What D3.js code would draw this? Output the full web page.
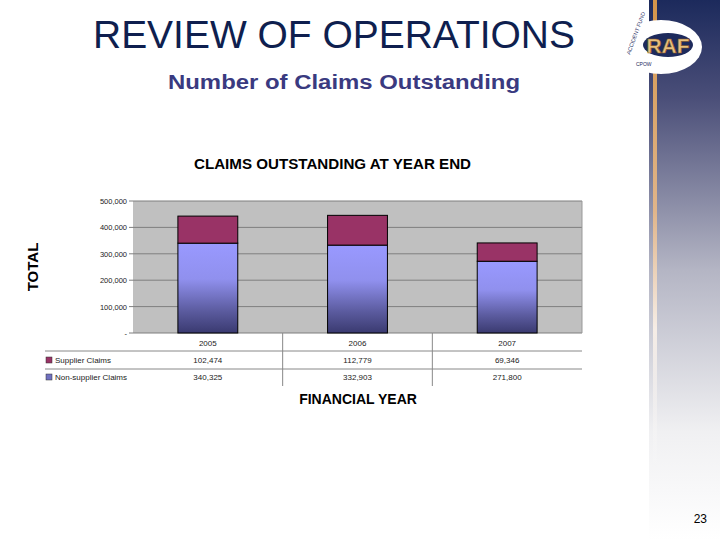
<!DOCTYPE html>
<html><head><meta charset="utf-8">
<script src="https://cdn.jsdelivr.net/npm/d3@7"></script>
<style>html,body{margin:0;padding:0;background:#fff}svg{display:block}</style>
</head><body>
<svg id="c" width="720" height="540"></svg>
<script>
const years = ["2005", "2006", "2007"];
const supplierClaims = [102474, 112779, 69346];
const nonSupplierClaims = [340325, 332903, 271800];
const seriesNames = ["Supplier Claims", "Non-supplier Claims"];
const yTicks = [0, 100000, 200000, 300000, 400000, 500000];

const svg = d3.select("#c");
const defs = svg.append("defs");
const F = "Arial, 'Liberation Sans', sans-serif";

// right decorative band
const band = defs.append("linearGradient").attr("id","band").attr("x1",0).attr("y1",0).attr("x2",0).attr("y2",1);
band.append("stop").attr("offset","0").attr("stop-color","#1c2a5c");
band.append("stop").attr("offset","0.18").attr("stop-color","#4a4e78");
band.append("stop").attr("offset","0.5").attr("stop-color","#b4b5c4");
band.append("stop").attr("offset","0.8").attr("stop-color","#f0f0f2");
band.append("stop").attr("offset","1").attr("stop-color","#ffffff");
svg.append("rect").attr("x",649).attr("y",0).attr("width",71).attr("height",540).attr("fill","url(#band)");
const og = defs.append("linearGradient").attr("id","og").attr("x1",0).attr("y1",0).attr("x2",0).attr("y2",1);
og.append("stop").attr("offset","0").attr("stop-color","#d4954a");
og.append("stop").attr("offset","0.45").attr("stop-color","#e0b58a");
og.append("stop").attr("offset","0.7").attr("stop-color","#f6ede6");
og.append("stop").attr("offset","1").attr("stop-color","#ffffff").attr("stop-opacity",0);
svg.append("rect").attr("x",653).attr("y",0).attr("width",4).attr("height",470).attr("fill","url(#og)");

// logo
svg.append("ellipse").attr("cx",661).attr("cy",47).attr("rx",41).attr("ry",27).attr("fill","#fff");
svg.append("ellipse").attr("cx",668).attr("cy",45).attr("rx",25).attr("ry",12).attr("fill","#1d2a5c");
svg.append("text").attr("x",668).attr("y",53).attr("text-anchor","middle").attr("font-family",F)
  .attr("font-size",21).attr("font-weight","bold").attr("fill","#e8c080").attr("stroke","#8a5a20").attr("stroke-width",0.6).text("RAF");
svg.append("text").attr("x",630).attr("y",55).attr("font-family",F).attr("font-size",5.5).attr("fill","#1d2a5c")
  .attr("transform","rotate(-70,630,55)").text("ACCIDENT FUND");
svg.append("text").attr("x",636).attr("y",66).attr("font-family",F).attr("font-size",5).attr("fill","#1d2a5c").text("CPOW");

// headings
svg.append("text").attr("x",93).attr("y",48).attr("font-family",F)
  .attr("font-size",38.5).attr("fill","#0f1f4f").attr("textLength",482).attr("lengthAdjust","spacingAndGlyphs").text("REVIEW OF OPERATIONS");
svg.append("text").attr("x",168).attr("y",89).attr("font-family",F)
  .attr("font-size",20).attr("font-weight","bold").attr("fill","#3a3a80").attr("textLength",352).attr("lengthAdjust","spacingAndGlyphs").text("Number of Claims Outstanding");

// chart
const x0 = 133, x1 = 582, yTop = 201, yBot = 333;
const x = d3.scaleBand().domain(years).range([x0, x1]).paddingInner(0).paddingOuter(0);
const y = d3.scaleLinear().domain([0, 500000]).range([yBot, yTop]);

svg.append("text").attr("x",194).attr("y",169).attr("font-family",F)
  .attr("font-size",14).attr("font-weight","bold").attr("fill","#000").attr("textLength",277).attr("lengthAdjust","spacingAndGlyphs").text("CLAIMS OUTSTANDING AT YEAR END");

svg.append("rect").attr("x",x0).attr("y",yTop).attr("width",x1-x0).attr("height",yBot-yTop).attr("fill","#c0c0c0");

const yAxis = d3.axisLeft(y).tickValues(yTicks).tickSize(0).tickPadding(6)
  .tickFormat(d => d === 0 ? "-" : d3.format(",")(d));
const ga = svg.append("g").attr("transform",`translate(${x0},0)`).call(yAxis);
ga.select(".domain").remove();
ga.selectAll("text").attr("font-family",F).attr("font-size",7.5).attr("fill","#222");
// gridlines
svg.append("g").selectAll("line").data(yTicks).join("line")
  .attr("x1",x0).attr("x2",x1).attr("y1",d=>y(d)).attr("y2",d=>y(d))
  .attr("stroke", "#7f7f7f").attr("stroke-width",1);
svg.append("g").selectAll("line").data(yTicks).join("line")
  .attr("x1",x0-4).attr("x2",x0).attr("y1",d=>y(d)).attr("y2",d=>y(d)).attr("stroke","#7f7f7f");
svg.append("line").attr("x1",x1).attr("x2",x1).attr("y1",yTop).attr("y2",yBot).attr("stroke","#999");

const bg = defs.append("linearGradient").attr("id","barg").attr("x1",0).attr("y1",0).attr("x2",0).attr("y2",1);
bg.append("stop").attr("offset","0").attr("stop-color","#9999ff");
bg.append("stop").attr("offset","0.4").attr("stop-color","#9090ee");
bg.append("stop").attr("offset","0.75").attr("stop-color","#5c5ca0");
bg.append("stop").attr("offset","1").attr("stop-color","#3a3a70");

const bw = x.bandwidth() * 0.4;
const data = years.map((yr, i) => ({yr, s: supplierClaims[i], n: nonSupplierClaims[i]}));
const bars = svg.append("g");
bars.selectAll(".n").data(data).join("rect").attr("class","n")
  .attr("x", d => x(d.yr) + (x.bandwidth()-bw)/2).attr("width", bw)
  .attr("y", d => y(d.n)).attr("height", d => y(0) - y(d.n))
  .attr("fill","url(#barg)").attr("stroke","#000").attr("stroke-width",1);
bars.selectAll(".s").data(data).join("rect").attr("class","s")
  .attr("x", d => x(d.yr) + (x.bandwidth()-bw)/2).attr("width", bw)
  .attr("y", d => y(d.n + d.s)).attr("height", d => y(d.n) - y(d.n + d.s))
  .attr("fill","#993366").attr("stroke","#000").attr("stroke-width",1);

// data table
const tg = svg.append("g");
const rowLines = [351, 369];
tg.selectAll(".h").data(rowLines).join("line").attr("x1",45).attr("x2",x1).attr("y1",d=>d).attr("y2",d=>d)
  .attr("stroke","#888").attr("stroke-width",1);
tg.selectAll(".v").data(years.slice(1)).join("line").attr("x1",d=>x(d)).attr("x2",d=>x(d))
  .attr("y1",yBot).attr("y2",386).attr("stroke","#888");
tg.selectAll(".yl").data(years).join("text").attr("x",d=>x(d)+x.bandwidth()/2).attr("y",346)
  .attr("text-anchor","middle").attr("font-family",F).attr("font-size",8).attr("fill","#222").text(d=>d);
const rows = [{name: seriesNames[0], vals: supplierClaims, col:"#993366", y:363},
              {name: seriesNames[1], vals: nonSupplierClaims, col:"#7070c0", y:380}];
rows.forEach(r => {
  tg.append("rect").attr("x",46).attr("y",r.y-6).attr("width",6).attr("height",6).attr("fill",r.col).attr("stroke","#333").attr("stroke-width",0.5);
  tg.append("text").attr("x",55).attr("y",r.y).attr("font-family",F).attr("font-size",8).attr("fill","#222").text(r.name);
  tg.selectAll(null).data(years).join("text").attr("x",d=>x(d)+x.bandwidth()/2).attr("y",r.y)
    .attr("text-anchor","middle").attr("font-family",F).attr("font-size",8).attr("fill","#222")
    .text((d,i)=>d3.format(",")(r.vals[i]));
});

svg.append("text").attr("x",358).attr("y",404).attr("text-anchor","middle").attr("font-family",F)
  .attr("font-size",14).attr("font-weight","bold").attr("fill","#000").text("FINANCIAL YEAR");
svg.append("text").attr("transform","translate(38,267) rotate(-90)").attr("text-anchor","middle").attr("font-family",F)
  .attr("font-size",15).attr("font-weight","bold").attr("fill","#000").text("TOTAL");

svg.append("text").attr("x",707).attr("y",523).attr("text-anchor","end").attr("font-family",F)
  .attr("font-size",12).attr("fill","#000").text("23");
</script>
</body></html>
